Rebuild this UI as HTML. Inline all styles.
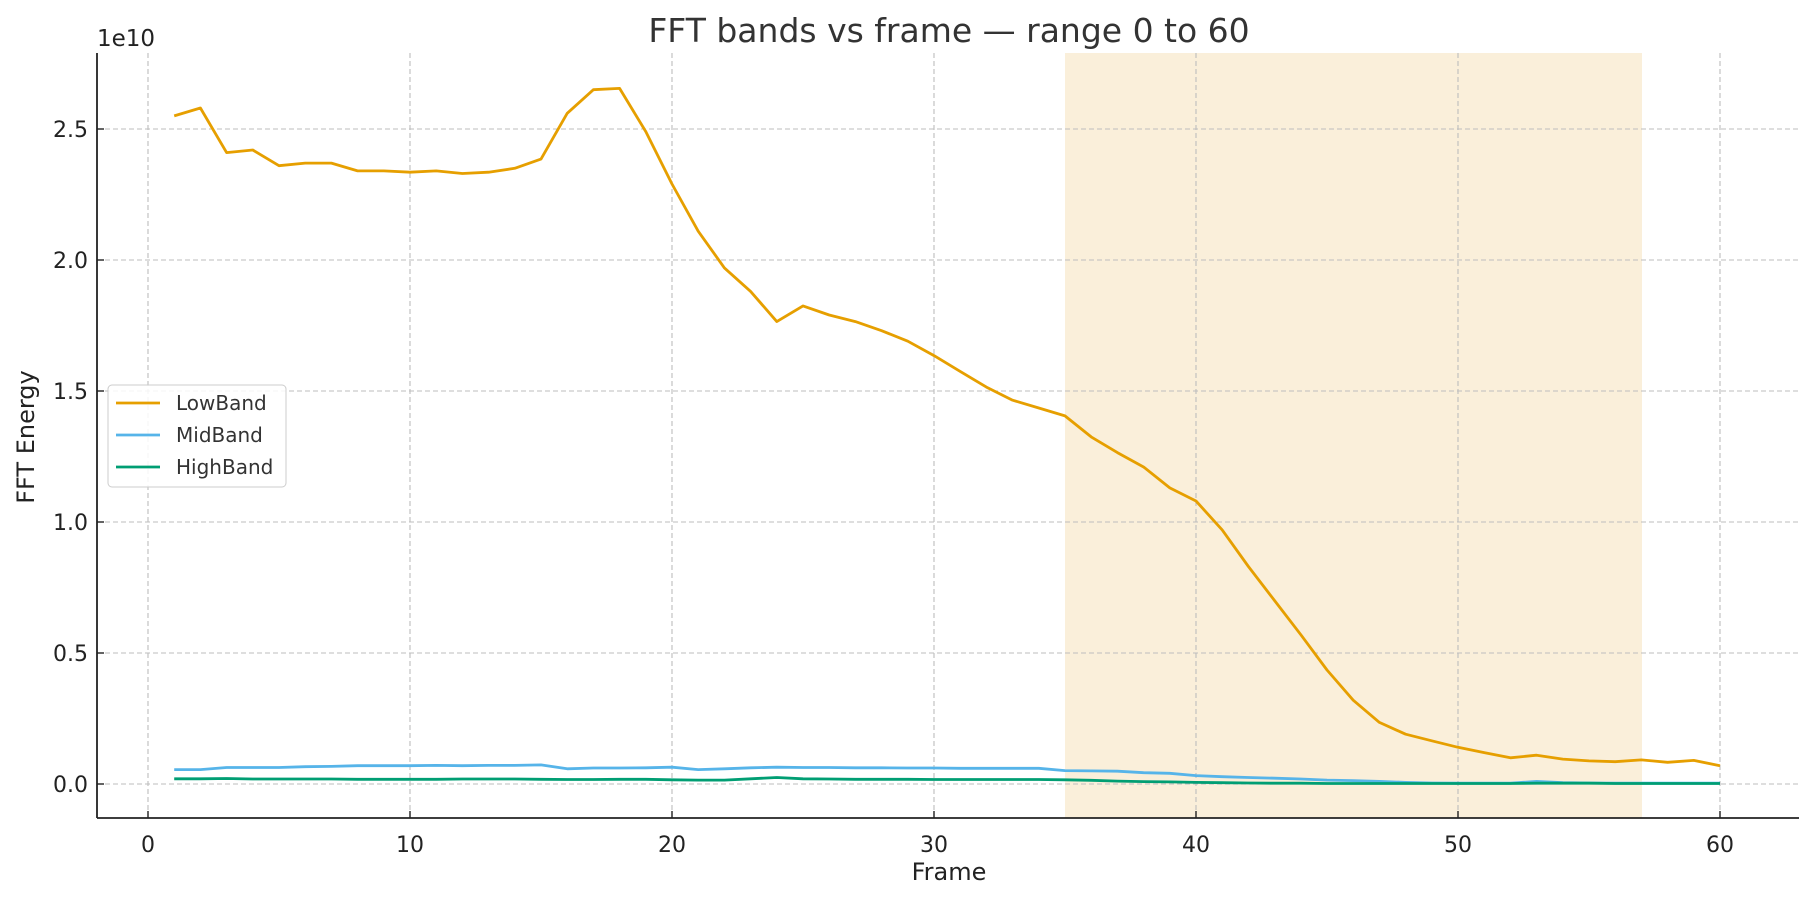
<!DOCTYPE html>
<html><head><meta charset="utf-8"><style>
html,body{margin:0;padding:0;background:#fff;}
svg{display:block;font-family:"DejaVu Sans","Liberation Sans",sans-serif;}
</style></head><body>
<svg id="s" width="1814" height="900" xmlns="http://www.w3.org/2000/svg">
<rect width="1814" height="900" fill="#fff"/>
<rect x="1065" y="53" width="577" height="765" fill="#faefda"/>
<g id="grid" stroke="#bdbdbd" stroke-width="1.1" stroke-dasharray="5,3"></g>
<g id="lines" fill="none" stroke-width="2.8" stroke-linejoin="round"></g>
<line x1="97" y1="53" x2="97" y2="818" stroke="#222" stroke-width="1.8"/>
<line x1="97" y1="818" x2="1799" y2="818" stroke="#222" stroke-width="1.8"/>
<g id="ticks" font-size="22" fill="#222"></g>
<text x="97" y="46" font-size="23" fill="#222">1e10</text>
<text x="949" y="42" font-size="33" fill="#333" text-anchor="middle">FFT bands vs frame — range 0 to 60</text>
<text x="949" y="880" font-size="24" fill="#222" text-anchor="middle">Frame</text>
<text transform="translate(34,437) rotate(-90)" font-size="24" fill="#222" text-anchor="middle">FFT Energy</text>
<rect x="108" y="385" width="178" height="102" rx="4" fill="#fff" fill-opacity="0.85" stroke="#ccc"/>
<line x1="116" y1="403" x2="160" y2="403" stroke="#E69F00" stroke-width="2.8"/>
<line x1="116" y1="435" x2="160" y2="435" stroke="#56B4E9" stroke-width="2.8"/>
<line x1="116" y1="467" x2="160" y2="467" stroke="#009E73" stroke-width="2.8"/>
<text x="176" y="410" font-size="20" fill="#333">LowBand</text>
<text x="176" y="442" font-size="20" fill="#333">MidBand</text>
<text x="176" y="474" font-size="20" fill="#333">HighBand</text>
</svg>
<script>
const X=f=>148+f*26.2, Y=v=>784-v*262;
const ns="http://www.w3.org/2000/svg";
function el(p,t,a,txt){const e=document.createElementNS(ns,t);for(const k in a)e.setAttribute(k,a[k]);if(txt!==undefined)e.textContent=txt;document.getElementById(p).appendChild(e);}
for(let f=0;f<=60;f+=10){el("grid","line",{x1:X(f),y1:53,x2:X(f),y2:818});
 el("ticks","line",{x1:X(f),y1:818,x2:X(f),y2:811,stroke:"#222","stroke-width":1.4});
 el("ticks","text",{x:X(f),y:852,"text-anchor":"middle"},String(f));}
for(let i=0;i<=5;i++){const v=i*0.5;el("grid","line",{x1:97,y1:Y(v),x2:1799,y2:Y(v)});
 el("ticks","line",{x1:97,y1:Y(v),x2:104,y2:Y(v),stroke:"#222","stroke-width":1.4});
 el("ticks","text",{x:88,y:Y(v)+8,"text-anchor":"end"},v.toFixed(1));}
const low=[2.55,2.58,2.41,2.42,2.36,2.37,2.37,2.34,2.34,2.335,2.34,2.33,2.335,2.35,2.385,2.56,2.65,2.655,2.49,2.29,2.11,1.97,1.88,1.765,1.825,1.79,1.765,1.73,1.69,1.635,1.575,1.515,1.465,1.435,1.405,1.325,1.265,1.21,1.13,1.08,0.97,0.83,0.70,0.57,0.435,0.32,0.235,0.19,0.165,0.14,0.12,0.10,0.11,0.095,0.088,0.085,0.092,0.083,0.09,0.07];
const mid=[0.055,0.055,0.063,0.063,0.063,0.066,0.067,0.07,0.07,0.07,0.071,0.07,0.071,0.071,0.073,0.058,0.061,0.061,0.062,0.064,0.055,0.058,0.062,0.064,0.063,0.063,0.062,0.062,0.061,0.061,0.06,0.06,0.06,0.06,0.051,0.05,0.049,0.043,0.041,0.032,0.028,0.025,0.022,0.019,0.015,0.013,0.01,0.006,0.004,0.003,0.003,0.003,0.01,0.005,0.004,0.003,0.003,0.003,0.003,0.003];
const high=[0.02,0.02,0.021,0.019,0.019,0.019,0.019,0.018,0.018,0.018,0.018,0.019,0.019,0.019,0.018,0.017,0.017,0.018,0.018,0.016,0.015,0.015,0.02,0.025,0.02,0.019,0.018,0.018,0.018,0.017,0.017,0.017,0.017,0.017,0.016,0.014,0.011,0.009,0.008,0.006,0.005,0.004,0.003,0.003,0.002,0.002,0.002,0.002,0.002,0.002,0.002,0.002,0.003,0.003,0.003,0.002,0.002,0.002,0.002,0.002];
[[low,"#E69F00"],[mid,"#56B4E9"],[high,"#009E73"]].forEach(([d,c])=>{
 el("lines","polyline",{stroke:c,points:d.map((v,i)=>X(i+1).toFixed(1)+","+Y(v).toFixed(1)).join(" ")});});
</script>
</body></html>
